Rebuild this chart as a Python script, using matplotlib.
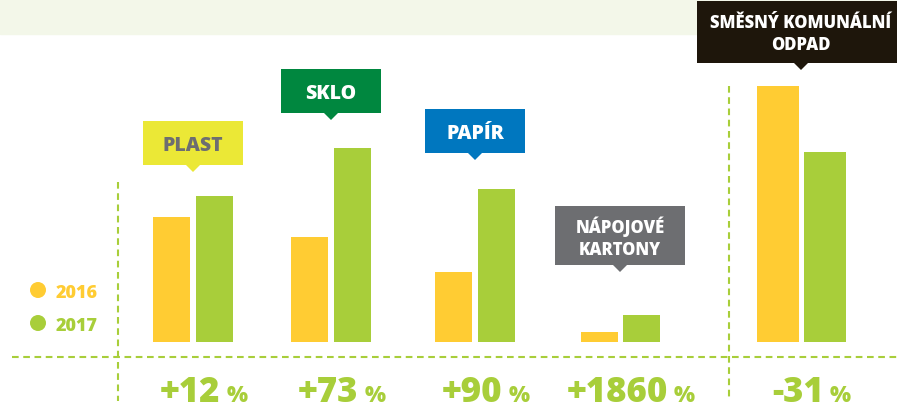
import matplotlib
matplotlib.use("Agg")
import matplotlib.pyplot as plt
from matplotlib.patches import Rectangle, Polygon, Circle

# Data (bar heights, arbitrary units)
categories = ["PLAST", "SKLO", "PAPÍR", "NÁPOJOVÉ\nKARTONY", "SMĚSNÝ KOMUNÁLNÍ\nODPAD"]
values_2016 = [125, 105, 70, 10, 256]
values_2017 = [146, 194, 153, 27, 190]
changes = ["+12", "+73", "+90", "+1860", "-31"]
years = ["2016", "2017"]

# Layout (pixel space, y measured from the top of the image)
W, H = 897, 406
BASE = 343
centers = [193, 331, 475, 620, 801]
bar_w = [37, 37, 37, 37, 42]
bar_gap = [6, 6, 6, 5, 5]
box_w = [100, 100, 100, 130, 208]
box_bottom = [166, 114, 154, 266, 64]
box_h = [44, 44, 44, 59, 62]
box_colors = ["#EBE836", "#00873F", "#0077BF", "#6D6E71", "#1E160B"]
text_colors = ["#6D6E71", "white", "white", "white", "white"]

YELLOW = "#FFCC33"
GREEN = "#A8CE3A"
FONT = "Open Sans"
WEIGHT = 800


def Y(y):
    return H - y


fig = plt.figure(figsize=(W / 100, H / 100), dpi=100)
ax = fig.add_axes([0, 0, 1, 1])
ax.set_xlim(0, W)
ax.set_ylim(0, H)
ax.axis("off")

# top band
ax.add_patch(Rectangle((0, Y(35)), W, 35, color="#F3F7E9", zorder=0))

# dashed guides
dash = dict(color=GREEN, lw=1.5, dashes=(3.2, 2.2), zorder=1)
ax.plot([12, W], [Y(358), Y(358)], **dash)
ax.plot([118, 118], [Y(183), Y(402)], **dash)
ax.plot([729, 729], [Y(87), Y(402)], **dash)

# bars
for i, c in enumerate(centers):
    off = bar_gap[i] / 2 + bar_w[i] / 2
    ax.bar(c - off, values_2016[i], width=bar_w[i], bottom=Y(BASE), color=YELLOW, zorder=2)
    ax.bar(c + off, values_2017[i], width=bar_w[i], bottom=Y(BASE), color=GREEN, zorder=2)

# category labels in boxes with pointers
for i, c in enumerate(centers):
    b = Y(box_bottom[i])
    ax.add_patch(Rectangle((c - box_w[i] / 2, b), box_w[i], box_h[i],
                           color=box_colors[i], zorder=3, lw=0))
    ax.add_patch(Polygon([[c - 7.5, b + 0.5], [c + 7.5, b + 0.5], [c, b - 7]],
                         closed=True, color=box_colors[i], zorder=3, lw=0))
    lines = categories[i].split("\n")
    if len(lines) == 1:
        ax.text(c, b + box_h[i] / 2 - 7, lines[0], ha="center", va="baseline",
                fontsize=14, fontweight=WEIGHT, family=FONT, color=text_colors[i], zorder=4)
    else:
        top = b + box_h[i]
        for k, line in enumerate(lines):
            ax.text(c, top - 26 - 22.5 * k, line, ha="center", va="baseline",
                    fontsize=12, fontweight=WEIGHT, family=FONT, color=text_colors[i], zorder=4)

# percentage changes: big number, small "%" on the same baseline
fig.canvas.draw()
renderer = fig.canvas.get_renderer()
inv = ax.transData.inverted()
for i, c in enumerate(centers):
    t = ax.text(c - 3, Y(402), changes[i], ha="center", va="baseline",
                fontsize=25, fontweight=WEIGHT, family=FONT, color=GREEN)
    x1 = inv.transform(t.get_window_extent(renderer).get_points())[1][0]
    ax.text(x1 + 6, Y(402), "%", ha="left", va="baseline",
            fontsize=16, fontweight=WEIGHT, family=FONT, color=GREEN)

# legend
for k, (yr, col) in enumerate(zip(years, [YELLOW, GREEN])):
    cy = Y(291 + 33 * k)
    ax.add_patch(Circle((38, cy), 8, color=col, lw=0))
    ax.text(56, cy - 7, yr, ha="left", va="baseline", fontsize=13,
            fontweight=WEIGHT, family=FONT, color=col)

fig.savefig("out.png", dpi=100)
